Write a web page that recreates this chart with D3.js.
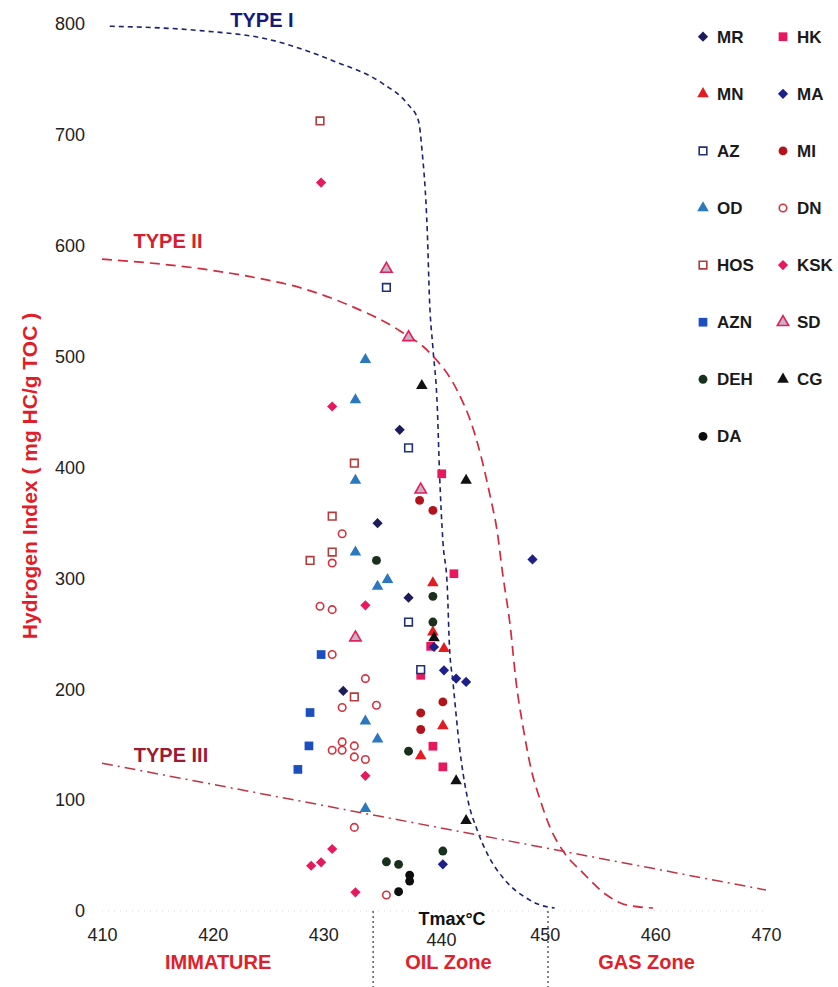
<!DOCTYPE html>
<html><head><meta charset="utf-8">
<script src="https://cdn.jsdelivr.net/npm/d3@7"></script>
<style>
body{margin:0;background:#fff}
svg{display:block}
text{font-family:"Liberation Sans",Arial,Helvetica,sans-serif}
</style>
</head><body>
<svg id="chart" width="838" height="987"></svg>
<script>
// ---------------- DATA ----------------
const xTicks = [410, 420, 430, 440, 450, 460, 470];
const yTicks = [0, 100, 200, 300, 400, 500, 600, 700, 800];
const zoneBounds = [434.5, 450.3];
const zoneLabels = [["IMMATURE", 420.5], ["OIL Zone", 441.3], ["GAS Zone", 459.2]];

// kerogen type curves [Tmax, HI]
const typeI = [[410.7,798],[418.9,794],[424.9,786.5],[430.9,766.7],[435.4,746],[437.6,728],[438.6,712.6],[438.9,688],[439.4,611],[439.6,550],[439.9,508],[440.3,454],[440.5,395],[440.8,334],[441.2,292],[441.4,238],[441.7,208],[442.3,148],[443.0,103],[443.9,73],[444.8,52],[446.4,28],[448.2,12.6],[449.6,5.4],[450.9,2.7]];
const typeII = [[410.0,588],[418.9,579.3],[423.4,572.1],[427.9,562.2],[432.4,546.0],[436.9,523.4],[439.6,503.6],[442.1,469.4],[443.5,436],[444.4,404],[445.1,373],[445.7,343],[446.2,304.5],[446.9,256],[447.4,208],[448.1,163],[448.8,127],[449.6,100],[450.5,75],[451.6,55],[453.5,34],[455.6,14.4],[457.4,5.4],[459.8,2.7]];
const typeIII = [[410.0,133.3],[470.0,18.9]];

// samples [Tmax, HI]
const MR  = [[436.9,434.0],[434.9,349.8],[437.7,282.6],[431.8,198.5]];
const HK  = [[440.7,394.3],[441.8,304.2],[439.7,238.7],[438.8,212.6],[439.9,148.6],[440.8,130.0]];
const MN  = [[439.9,295.8],[439.9,251.6],[440.9,236.7],[440.8,166.9],[438.8,139.9]];
const MA  = [[440.0,238.1],[440.9,217.1],[442.0,209.6],[442.9,206.6],[448.9,317.1],[440.8,42.1]];
const AZ  = [[435.7,562.4],[437.7,417.7],[437.7,260.6],[438.8,217.7]];
const MI  = [[438.7,370.3],[439.9,361.3],[440.8,188.6],[438.8,178.6],[438.8,163.7]];
const OD  = [[433.8,497.3],[432.9,461.0],[432.9,388.3],[432.9,323.7],[435.8,298.8],[434.9,292.8],[433.8,171.2],[434.9,155.0],[433.8,92.2]];
const DN  = [[431.7,340.3],[430.8,313.8],[429.7,274.8],[430.8,271.8],[430.8,231.3],[433.8,209.6],[431.7,183.5],[434.8,185.6],[431.7,152.5],[432.8,148.9],[430.8,145.0],[431.7,145.0],[432.8,139.0],[433.8,136.7],[432.8,75.4],[435.7,14.4]];
const HOS = [[429.7,712.6],[432.8,403.9],[430.8,356.1],[430.8,323.7],[428.8,316.2],[432.8,193.1]];
const KSK = [[429.8,657.0],[430.8,455.0],[433.8,275.7],[433.8,121.9],[430.8,55.9],[428.9,40.8],[429.8,43.9],[432.9,16.8]];
const AZN = [[429.8,231.3],[428.8,179.0],[428.7,148.9],[427.7,127.7]];
const SD  = [[435.7,579.0],[437.7,517.4],[438.8,379.9],[432.9,246.6]];
const DEH = [[434.8,316.2],[439.9,283.8],[439.9,260.6],[437.7,144.1],[440.8,54.1],[435.7,44.4],[436.8,42.1]];
const CG  = [[438.9,473.9],[442.9,388.3],[440.0,246.2],[442.0,117.4],[442.9,81.4]];
const DA  = [[437.8,32.4],[437.8,27.0],[436.8,17.4]];

const legendRows = [["MR","HK"],["MN","MA"],["AZ","MI"],["OD","DN"],["HOS","KSK"],["AZN","SD"],["DEH","CG"],["DA"]];

// ---------------- STYLES ----------------
const seriesData = {MR, HK, MN, MA, AZ, MI, OD, DN, HOS, KSK, AZN, SD, DEH, CG, DA};
const styles = {
  MR:  {shape:"diamond",  fill:"#1c1b5c", stroke:"none"},
  HK:  {shape:"square",   fill:"#e8185c", stroke:"none"},
  MN:  {shape:"triangle", fill:"#e41c22", stroke:"none"},
  MA:  {shape:"diamond",  fill:"#1d1f8a", stroke:"none"},
  AZ:  {shape:"osquare",  fill:"#fff",    stroke:"#22307a"},
  MI:  {shape:"circle",   fill:"#b3131b", stroke:"none"},
  OD:  {shape:"triangle", fill:"#2a78bd", stroke:"none"},
  DN:  {shape:"ocircle",  fill:"#fff",    stroke:"#d2333f"},
  HOS: {shape:"osquare",  fill:"#fff",    stroke:"#b53a3a"},
  KSK: {shape:"diamond",  fill:"#e8185c", stroke:"none"},
  AZN: {shape:"square",   fill:"#1b4fbf", stroke:"none"},
  SD:  {shape:"otriangle",fill:"#c9b2c4", stroke:"#e0215a"},
  DEH: {shape:"circle",   fill:"#18301c", stroke:"none"},
  CG:  {shape:"triangle", fill:"#111111", stroke:"none"},
  DA:  {shape:"circle",   fill:"#0d0d0d", stroke:"none"}
};
const symbolGen = {
  diamond:  d3.symbol(d3.symbolSquare, 52)(),
  square:   d3.symbol(d3.symbolSquare, 76)(),
  osquare:  d3.symbol(d3.symbolSquare, 58)(),
  triangle: d3.symbol(d3.symbolTriangle, 58)(),
  otriangle:d3.symbol(d3.symbolTriangle, 56)(),
  circle:   d3.symbol(d3.symbolCircle, 62)(),
  ocircle:  d3.symbol(d3.symbolCircle, 44)()
};

// ---------------- SCALES ----------------
const svg = d3.select("#chart");
const x = d3.scaleLinear().domain([410, 470]).range([102, 766]);
const y = d3.scaleLinear().domain([0, 800]).range([911, 24]);

// faint baseline
svg.append("line")
  .attr("x1", x(410)).attr("x2", x(470)).attr("y1", y(0)).attr("y2", y(0))
  .attr("stroke", "#d8d8d8").attr("stroke-width", 1).attr("stroke-dasharray", "1,5");

// zone boundaries
svg.selectAll(".zone").data(zoneBounds).enter().append("line")
  .attr("x1", d => x(d)).attr("x2", d => x(d))
  .attr("y1", y(0)).attr("y2", 987)
  .attr("stroke", "#333").attr("stroke-width", 1.2).attr("stroke-dasharray", "2,3");

// axes (labels only)
const xAxis = svg.append("g").attr("transform", `translate(0,${y(0)})`)
  .call(d3.axisBottom(x).tickValues(xTicks).tickSize(0).tickPadding(17).tickFormat(d3.format("d")));
xAxis.select(".domain").remove();
xAxis.selectAll("text").attr("font-size", 18).attr("fill", "#222")
  .attr("font-family", '"Liberation Sans",Arial,sans-serif')
  .attr("dx", d => d === 440 ? 7 : 0)
  .attr("dy", d => d === 440 ? "1.02em" : "0.71em");

const yAxis = svg.append("g").attr("transform", `translate(88,0)`)
  .call(d3.axisLeft(y).tickValues(yTicks).tickSize(0).tickPadding(3).tickFormat(d3.format("d")));
yAxis.select(".domain").remove();
yAxis.selectAll("text").attr("font-size", 18).attr("fill", "#222")
  .attr("font-family", '"Liberation Sans",Arial,sans-serif');

// curves
const line = d3.line().x(d => x(d[0])).y(d => y(d[1])).curve(d3.curveMonotoneX);
svg.append("path").datum(typeI).attr("d", line)
  .attr("fill", "none").attr("stroke", "#1d2270").attr("stroke-width", 1.6).attr("stroke-dasharray", "5,4");
svg.append("path").datum(typeII).attr("d", line)
  .attr("fill", "none").attr("stroke", "#d22a3e").attr("stroke-width", 1.7).attr("stroke-dasharray", "10,6");
svg.append("path").datum(typeIII).attr("d", d3.line().x(d => x(d[0])).y(d => y(d[1])))
  .attr("fill", "none").attr("stroke", "#bf3548").attr("stroke-width", 1.5).attr("stroke-dasharray", "11,5,2,5");

// type labels
svg.append("text").attr("x", 262).attr("y", 27).attr("text-anchor", "middle")
  .attr("font-size", 20).attr("font-weight", "bold").attr("fill", "#16197a").text("TYPE I");
svg.append("text").attr("x", 168).attr("y", 248).attr("text-anchor", "middle")
  .attr("font-size", 20).attr("font-weight", "bold").attr("fill", "#d4202e").text("TYPE II");
svg.append("text").attr("x", 171).attr("y", 762).attr("text-anchor", "middle")
  .attr("font-size", 20).attr("font-weight", "bold").attr("fill", "#9c1a34").text("TYPE III");

// points
function drawMarker(g, key) {
  const st = styles[key];
  const p = g.append("path").attr("d", symbolGen[st.shape])
    .attr("fill", st.fill);
  if (st.stroke !== "none") p.attr("stroke", st.stroke).attr("stroke-width", 1.6);
  if (st.shape === "diamond") p.attr("transform", "rotate(45)");
  return p;
}
Object.keys(seriesData).forEach(key => {
  const g = svg.append("g").attr("class", "series-" + key);
  g.selectAll("g").data(seriesData[key]).enter().append("g")
    .attr("transform", d => `translate(${x(d[0])},${y(d[1])})`)
    .each(function () { drawMarker(d3.select(this), key); });
});

// axis titles
svg.append("text").attr("transform", "translate(37,476) rotate(-90)").attr("text-anchor", "middle")
  .attr("font-size", 21).attr("font-weight", "bold").attr("fill", "#e11d2a")
  .text("Hydrogen Index ( mg HC/g TOC )");
svg.append("text").attr("x", 452).attr("y", 925).attr("text-anchor", "middle")
  .attr("font-size", 18).attr("font-weight", "bold").attr("fill", "#111").text("Tmax°C");

// zone labels
svg.selectAll(".zl").data(zoneLabels).enter().append("text")
  .attr("x", d => x(d[1])).attr("y", 969).attr("text-anchor", "middle")
  .attr("font-size", 20).attr("font-weight", "bold").attr("fill", "#e0202a")
  .text(d => d[0]);

// legend
const legColX = [703, 783];
legendRows.forEach((row, i) => {
  row.forEach((key, j) => {
    const cy = 36.7 + i * 57.1;
    const g = svg.append("g").attr("transform", `translate(${legColX[j]},${cy})`);
    drawMarker(g, key);
    svg.append("text").attr("x", legColX[j] + 14).attr("y", cy + 6)
      .attr("font-size", 17).attr("font-weight", "bold").attr("fill", "#1a1a1a").text(key);
  });
});
</script>
</body></html>
